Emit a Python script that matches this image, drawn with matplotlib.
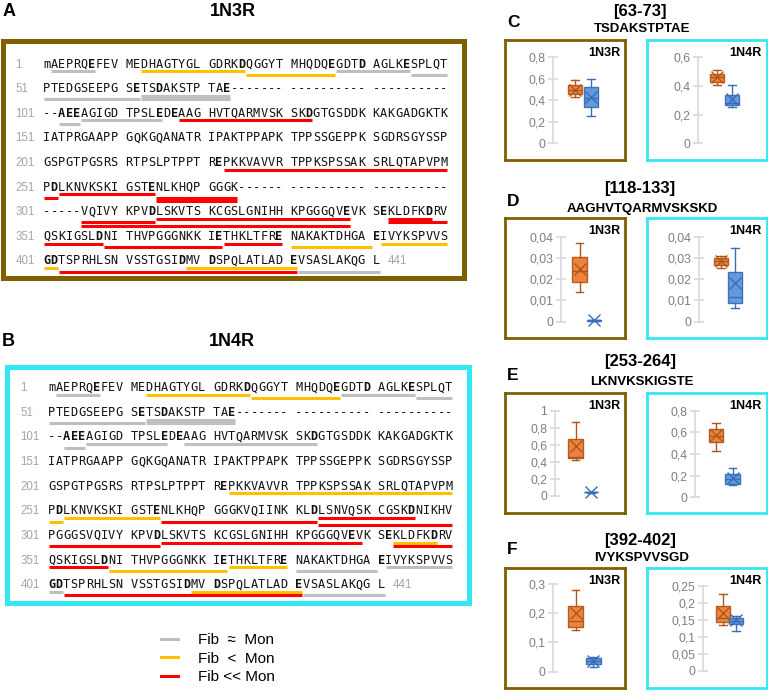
import numpy as np
import matplotlib.pyplot as plt
from matplotlib.lines import Line2D
from matplotlib.ticker import FuncFormatter

W, H = 768, 696
plt.rcParams['font.family'] = ['Liberation Sans', 'DejaVu Sans']

# tau sequence rows, '*' marks a bold residue
row_starts = [1, 51, 101, 151, 201, 251, 301, 351, 401]
rows_1n3r = [
    "mAEPRQ*EFEV MEDHAGTYGL GDRK*DQGGYT MHQDQ*EGDT*D AGLK*ESPLQT",
    "PTEDGSEEPG S*ETS*DAKSTP TA*E------- ---------- ----------",
    "--*A*E*EAGIGD TPSL*ED*EAAG HVTQARMVSK SK*DGTGSDDK KAKGADGKTK",
    "IATPRGAAPP GQKGQANATR IPAKTPPAPK TPPSSGEPPK SGDRSGYSSP",
    "GSPGTPGSRS RTPSLPTPPT R*EPKKVAVVR TPPKSPSSAK SRLQTAPVPM",
    "P*DLKNVKSKI GST*ENLKHQP GGGK------ ---------- ----------",
    "-----VQIVY KPV*DLSKVTS KCGSLGNIHH KPGGGQV*EVK S*EKLDFK*DRV",
    "QSKIGSL*DNI THVPGGGNKK I*ETHKLTFR*E NAKAKTDHGA *EIVYKSPVVS",
    "*G*DTSPRHLSN VSSTGSI*DMV *DSPQLATLAD *EVSASLAKQG L",
]
rows_1n4r = [
    "mAEPRQ*EFEV MEDHAGTYGL GDRK*DQGGYT MHQDQ*EGDT*D AGLK*ESPLQT",
    "PTEDGSEEPG S*ETS*DAKSTP TA*E------- ---------- ----------",
    "--*A*E*EAGIGD TPSL*ED*EAAG HVTQARMVSK SK*DGTGSDDK KAKGADGKTK",
    "IATPRGAAPP GQKGQANATR IPAKTPPAPK TPPSSGEPPK SGDRSGYSSP",
    "GSPGTPGSRS RTPSLPTPPT R*EPKKVAVVR TPPKSPSSAK SRLQTAPVPM",
    "P*DLKNVKSKI GST*ENLKHQP GGGKVQIINK KL*DLSNVQSK CGSK*DNIKHV",
    "PGGGSVQIVY KPV*DLSKVTS KCGSLGNIHH KPGGGQV*EVK S*EKLDFK*DRV",
    "QSKIGSL*DNI THVPGGGNKK I*ETHKLTFR*E NAKAKTDHGA *EIVYKSPVVS",
    "*G*DTSPRHLSN VSSTGSI*DMV *DSPQLATLAD *EVSASLAKQG L",
]
seq_length = 441

# underlined peptides: (row, first char, last char, stack level, class)
segs_1n3r = [
    (0, 1, 6, 1, 'eq'), (0, 13, 26, 1, 'lt'), (0, 27, 38, 2, 'lt'), (0, 39, 48, 1, 'eq'), (0, 49, 53, 2, 'eq'),
    (1, 0, 12, 2, 'eq'), (1, 13, 24, 1, 'eq'), (1, 13, 24, 2, 'eq'),
    (2, 5, 15, 1, 'eq'), (2, 2, 4, 2, 'eq'), (2, 18, 35, 1, 'll'),
    (4, 24, 53, 1, 'll'),
    (5, 0, 1, 2, 'll'), (5, 2, 14, 1, 'll'), (5, 15, 25, 2, 'll'), (5, 15, 25, 3, 'll'),
    (6, 5, 14, 2, 'll'), (6, 15, 40, 1, 'll'), (6, 5, 40, 3, 'll'), (6, 46, 51, 1, 'll'), (6, 46, 53, 2, 'll'),
    (7, 0, 7, 1, 'll'), (7, 8, 23, 2, 'll'), (7, 24, 31, 1, 'll'), (7, 33, 43, 2, 'lt'), (7, 45, 53, 1, 'lt'),
    (8, 0, 1, 1, 'lt'), (8, 19, 33, 1, 'lt'), (8, 2, 33, 2, 'll'), (8, 34, 44, 2, 'eq'),
]
segs_1n4r = [
    (0, 1, 6, 1, 'eq'), (0, 13, 26, 1, 'lt'), (0, 27, 38, 2, 'lt'), (0, 39, 48, 1, 'eq'), (0, 49, 53, 2, 'eq'),
    (1, 0, 12, 2, 'eq'), (1, 13, 24, 1, 'eq'), (1, 13, 24, 2, 'eq'),
    (2, 5, 15, 1, 'eq'), (2, 2, 4, 2, 'eq'), (2, 18, 35, 1, 'eq'),
    (4, 24, 53, 1, 'lt'),
    (5, 0, 1, 2, 'lt'), (5, 2, 14, 1, 'lt'), (5, 15, 35, 2, 'll'), (5, 36, 48, 1, 'll'), (5, 36, 53, 3, 'll'),
    (6, 0, 14, 2, 'll'), (6, 15, 41, 1, 'll'), (6, 46, 51, 1, 'lt'), (6, 46, 53, 2, 'll'),
    (7, 0, 7, 1, 'll'), (7, 8, 23, 2, 'lt'), (7, 24, 31, 1, 'lt'), (7, 33, 43, 2, 'eq'), (7, 45, 53, 1, 'eq'),
    (8, 0, 1, 1, 'eq'), (8, 19, 33, 1, 'lt'), (8, 2, 33, 2, 'll'), (8, 34, 44, 2, 'eq'),
]
classes = ['eq', 'lt', 'll']
class_colors = {'eq': '#BFBFBF', 'lt': '#FFC000', 'll': '#FF0000'}
class_labels = ['Fib  \u2248  Mon', 'Fib  <  Mon', 'Fib << Mon']

# box plot panels C-F
letters = ['C', 'D', 'E', 'F']
regions = ['[63-73]', '[118-133]', '[253-264]', '[392-402]']
peptides = ['TSDAKSTPTAE', 'AAGHVTQARMVSKSKD', 'LKNVKSKIGSTE', 'IVYKSPVVSGD']
ymax_1n3r = [0.8, 0.04, 1.0, 0.3]
ystep_1n3r = [0.2, 0.01, 0.2, 0.1]
ymax_1n4r = [0.6, 0.04, 0.8, 0.25]
ystep_1n4r = [0.2, 0.01, 0.2, 0.05]
# (whislo, q1, median, q3, whishi, mean)
mon_1n3r = [(0.43, 0.46, 0.50, 0.54, 0.59, 0.50),
            (0.0141, 0.0188, 0.0240, 0.0303, 0.0372, 0.0246),
            (0.42, 0.44, 0.46, 0.667, 0.87, 0.584),
            (0.143, 0.154, 0.173, 0.225, 0.279, 0.200)]
fib_1n3r = [(0.25, 0.34, 0.42, 0.52, 0.60, 0.43),
            (0.0002, 0.0004, 0.0006, 0.0008, 0.0010, 0.0006),
            (0.035, 0.038, 0.040, 0.042, 0.045, 0.040),
            (0.017, 0.026, 0.037, 0.048, 0.051, 0.038)]
mon_1n4r = [(0.41, 0.43, 0.46, 0.48, 0.51, 0.46),
            (0.0251, 0.0267, 0.0285, 0.0298, 0.0310, 0.0287),
            (0.43, 0.51, 0.57, 0.63, 0.683, 0.575),
            (0.135, 0.145, 0.157, 0.191, 0.226, 0.171)]
fib_1n4r = [(0.25, 0.265, 0.28, 0.34, 0.41, 0.31),
            (0.0063, 0.0086, 0.0118, 0.0232, 0.0348, 0.0180),
            (0.117, 0.123, 0.165, 0.212, 0.274, 0.175),
            (0.118, 0.138, 0.148, 0.157, 0.162, 0.150)]

BROWN = '#7F6000'
CYAN = '#33E8F2'
MON_FACE, MON_EDGE = '#ED7D31', '#B0561B'
FIB_FACE, FIB_EDGE = '#5B95DB', '#3A6DB8'

fig = plt.figure(figsize=(W / 100, H / 100), dpi=100)


def rect(l, t, r, b):
    # pixel box -> figure fraction
    return [l / W, 1 - b / H, (r - l) / W, (b - t) / H]


def ftext(x, y, s, **kw):
    fig.text(x / W, 1 - y / H, s, **kw)


# ---- sequence panels A and B ----
CW, RH = 7.49, 24.6
LEVEL_OFF = {1: 8.0, 2: 11.5, 3: 15.0}


def sequence_panel(box, x0, y0, rows, segs, edge):
    l, t, r, b = box
    ax = fig.add_axes(rect(l, t, r, b))
    ax.set_xlim((l - x0) / CW, (r - x0) / CW)
    ax.set_ylim((b - y0) / RH, (t - y0) / RH)
    ax.set_xticks([])
    ax.set_yticks([])
    for sp in ax.spines.values():
        sp.set_color(edge)
        sp.set_linewidth(3.6)
    for ri, row in enumerate(rows):
        chars = []
        bold = False
        for ch in row:
            if ch == '*':
                bold = True
                continue
            chars.append((ch, bold))
            bold = False
        yb = ri + 4.3 / RH
        ax.text(-3.65, yb, str(row_starts[ri]), ha='left', va='baseline',
                fontsize=8.3, color='#A6A6A6')
        for ci, (ch, bd) in enumerate(chars):
            if ch == ' ':
                continue
            ax.text(ci + 0.5, yb, ch, ha='center', va='baseline',
                    family='DejaVu Sans Mono', fontsize=8.6,
                    fontweight='bold' if bd else 'normal', color='#111111')
        if ri == len(rows) - 1:
            ax.text(len(chars) + 1, yb, str(seq_length), ha='left', va='baseline',
                    fontsize=8.3, color='#A6A6A6')
    for (ri, s, e, lvl, k) in segs:
        yy = ri + LEVEL_OFF[lvl] / RH
        ax.plot([s + 0.1, e + 0.95], [yy, yy], color=class_colors[k], lw=2.2,
                solid_capstyle='butt')


sequence_panel((2.5, 41, 464, 277.5), 43, 63.3, rows_1n3r, segs_1n3r, BROWN)
sequence_panel((6.5, 367, 468.5, 602.5), 48, 387, rows_1n4r, segs_1n4r, CYAN)

ftext(3, 12, 'A', fontsize=13, fontweight='bold', va='center')
ftext(233, 12, '1N3R', fontsize=13, fontweight='bold', va='center', ha='center')
ftext(2, 342, 'B', fontsize=13, fontweight='bold', va='center')
ftext(232, 342, '1N4R', fontsize=13, fontweight='bold', va='center', ha='center')

handles = [Line2D([], [], color=class_colors[k], lw=2.2) for k in classes]
fig.legend(handles, class_labels, loc='upper left', bbox_to_anchor=(161 / W, 1 - 633 / H),
           frameon=False, fontsize=11, handlelength=1.1, handletextpad=1.3,
           labelspacing=0.3, borderpad=0, borderaxespad=0)

# ---- box plot panels C-F ----
frame_top = [40, 218, 393, 568]
title_y = [11.7, 189, 361.7, 540]
sub_y = [29, 209, 382, 557.7]
letter_y = [22.3, 202, 376, 550]
# per panel: axis x, y of zero, y of top tick, x of mon box, x of fib box
geo_1n3r = [(553, 143.3, 57.3, 575, 591), (560.7, 321.7, 236.7, 579.7, 594),
            (555, 495.7, 410.7, 575.5, 591), (553.3, 671.7, 584, 575.5, 593.3)]
geo_1n4r = [(698.3, 143.3, 57.3, 717, 732), (699.3, 321.7, 236.7, 721, 735),
            (695, 497.3, 410.7, 716, 732.5), (703.3, 670.7, 586, 723, 736)]

fmt = FuncFormatter(lambda v, p: f"{v:.10g}".replace('.', ','))


def frame(l, t, r, b, edge, label):
    fa = fig.add_axes(rect(l, t, r, b))
    fa.set_xticks([])
    fa.set_yticks([])
    fa.patch.set_alpha(0)
    for sp in fa.spines.values():
        sp.set_color(edge)
        sp.set_linewidth(2.0)
    ftext(r - 5, t + 13, label, fontsize=9, fontweight='bold', ha='right', va='center')


def mini_box(geo, ymax, ystep, mon, fib):
    axx, y0, yt, xm, xf = geo
    ax = fig.add_axes(rect(axx, yt, axx + 64, y0))
    ax.patch.set_alpha(0)
    stats = []
    for s in (mon, fib):
        stats.append(dict(whislo=s[0], q1=s[1], med=s[2], q3=s[3], whishi=s[4],
                          mean=s[5], fliers=[]))
    bp = ax.bxp(stats, positions=[(xm - axx) / 16, (xf - axx) / 16], widths=0.92,
                showmeans=True, patch_artist=True, capwidths=0.45, manage_ticks=False)
    for i, (fc, ec) in enumerate([(MON_FACE, MON_EDGE), (FIB_FACE, FIB_EDGE)]):
        bp['boxes'][i].set(facecolor=fc, edgecolor=ec, linewidth=1.0, alpha=0.95)
        bp['medians'][i].set(color=ec, linewidth=1.0)
        bp['means'][i].set(marker='x', markeredgecolor=ec, markersize=8, markeredgewidth=1.0)
        for w in bp['whiskers'][2 * i:2 * i + 2] + bp['caps'][2 * i:2 * i + 2]:
            w.set(color=ec, linewidth=1.0)
    for art in ax.get_children():
        art.set_clip_on(False)
    ax.set_xlim(0, 4)
    ax.set_ylim(0, ymax)
    ax.set_yticks(np.arange(0, ymax + ystep / 2, ystep))
    ax.yaxis.set_major_formatter(fmt)
    ax.set_xticks([])
    for side in ['top', 'right', 'bottom']:
        ax.spines[side].set_visible(False)
    ax.spines['left'].set_color('#D9D9D9')
    ax.spines['left'].set_linewidth(1.2)
    ax.tick_params(axis='y', direction='inout', length=7, width=1.2, color='#D9D9D9',
                   labelcolor='#7F7F7F', labelsize=8.8, pad=2)


for k in range(4):
    ft = frame_top[k]
    ftext(507, letter_y[k], letters[k], fontsize=12.5, fontweight='bold', va='center')
    ftext(640, title_y[k], regions[k], fontsize=12, fontweight='bold', va='center', ha='center')
    ftext(642, sub_y[k], peptides[k], fontsize=9.5, fontweight='bold', va='center', ha='center')
    frame(505, ft, 625, ft + 120, BROWN, '1N3R')
    frame(647, ft, 767, ft + 120, CYAN, '1N4R')
    mini_box(geo_1n3r[k], ymax_1n3r[k], ystep_1n3r[k], mon_1n3r[k], fib_1n3r[k])
    mini_box(geo_1n4r[k], ymax_1n4r[k], ystep_1n4r[k], mon_1n4r[k], fib_1n4r[k])

fig.savefig('out.png', dpi=100)
